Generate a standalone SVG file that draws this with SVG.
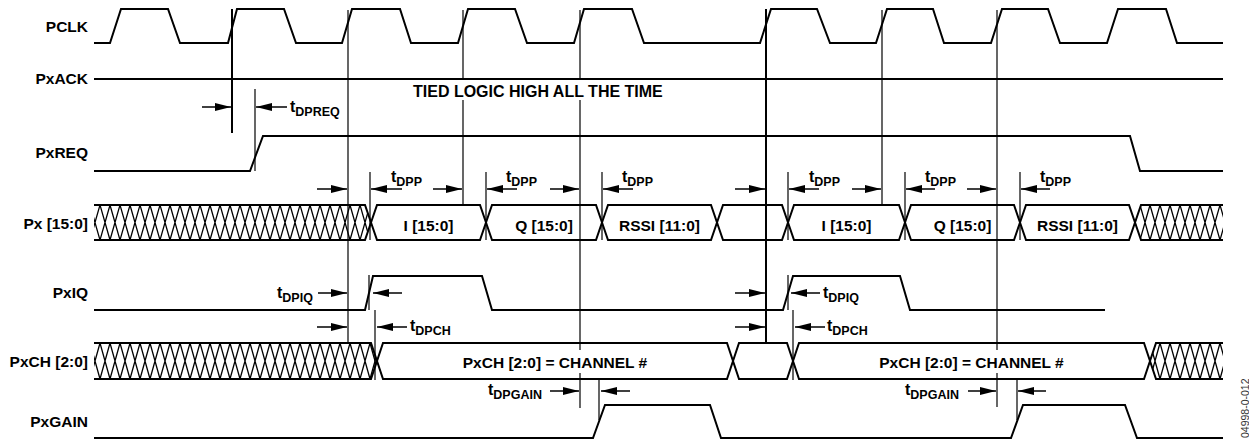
<svg xmlns="http://www.w3.org/2000/svg" width="1249" height="443" viewBox="0 0 1249 443">
<style>
.sig{fill:none;stroke:#000;stroke-width:2;stroke-linejoin:miter}
.ref{stroke:#000;stroke-width:1.2}
.refb{stroke:#000;stroke-width:2}
.tick{stroke:#000;stroke-width:1.2}
.arr{stroke:#000;stroke-width:1.5;marker-end:url(#ah)}
text{font-family:"Liberation Sans",Arial,sans-serif;font-weight:bold;fill:#000}
.lbl{font-size:15.5px;text-anchor:end}
.cell{font-size:15.5px;text-anchor:middle}
.tl{font-size:16px}
.sub{font-size:12.5px}
.id{font-weight:normal;font-size:10.5px;fill:#333}
</style>
<defs>
<marker id="ah" markerUnits="userSpaceOnUse" markerWidth="16" markerHeight="8" refX="16" refY="4" orient="auto"><path d="M0,0 L16,4 L0,8 Z" fill="#000"/></marker>
<pattern id="hPx" patternUnits="userSpaceOnUse" x="0" y="205" width="20" height="35"><path d="M0,0 L10,35 L20,0 M0,35 L10,0 L20,35" fill="none" stroke="#000" stroke-width="1.3"/></pattern>
<pattern id="hCh" patternUnits="userSpaceOnUse" x="0" y="343" width="20" height="36"><path d="M0,0 L10,36 L20,0 M0,36 L10,0 L20,36" fill="none" stroke="#000" stroke-width="1.3"/></pattern>
</defs>
<rect width="1249" height="443" fill="#fff"/>

<g id="pclk">
<text class="lbl" x="88" y="32">PCLK</text>
<path class="sig" d="M94,43 L110,43 L121,9 L168,9 L180,43 L228,43 L237,9 L284,9 L296,43 L342,43 L352,9 L400,9 L411,43 L458,43 L468,9 L515,9 L527,43 L574,43 L584,9 L632,9 L644,43 L760,43 L771,9 L817,9 L830,43 L876,43 L887,9 L933,9 L944,43 L991,43 L1002,9 L1048,9 L1060,43 L1107,43 L1118,9 L1166,9 L1177,43 L1223,43"/>
</g>

<g id="pxack">
<text class="lbl" x="88" y="84">PxACK</text>
<path class="sig" d="M94,79 L1223,79"/>
<text class="tl" x="413" y="96.5">TIED LOGIC HIGH ALL THE TIME</text>
</g>

<g id="pxreq">
<text class="lbl" x="88" y="158">PxREQ</text>
<path class="sig" d="M94,171 L250,171 L263,136 L1130,136 L1140,171 L1223,171"/>
</g>

<g id="px">
<text class="lbl" x="88" y="229">Px [15:0]</text>
<path d="M94,205 L365,205 L371,222.5 L365,240 L94,240 Z" fill="url(#hPx)"/>
<path class="sig" d="M94,205 L365,205 L371,222.5 L365,240 L94,240"/>
<path class="sig" d="M371,222.5 L377,205 L480,205 L486,222.5 L480,240 L377,240 Z"/>
<path class="sig" d="M486,222.5 L492,205 L596,205 L602,222.5 L596,240 L492,240 Z"/>
<path class="sig" d="M602,222.5 L608,205 L711,205 L717,222.5 L711,240 L608,240 Z"/>
<path class="sig" d="M717,222.5 L723,205 L782,205 L788,222.5 L782,240 L723,240 Z"/>
<path class="sig" d="M788,222.5 L794,205 L899,205 L905,222.5 L899,240 L794,240 Z"/>
<path class="sig" d="M905,222.5 L911,205 L1014,205 L1020,222.5 L1014,240 L911,240 Z"/>
<path class="sig" d="M1020,222.5 L1026,205 L1129,205 L1135,222.5 L1129,240 L1026,240 Z"/>
<path d="M1135,222.5 L1141,205 L1223,205 L1223,240 L1141,240 Z" fill="url(#hPx)"/>
<path class="sig" d="M1223,205 L1141,205 L1135,222.5 L1141,240 L1223,240"/>
<text class="cell" x="428.5" y="231">I [15:0]</text>
<text class="cell" x="544" y="231">Q [15:0]</text>
<text class="cell" x="659.5" y="231">RSSI [11:0]</text>
<text class="cell" x="846.5" y="231">I [15:0]</text>
<text class="cell" x="962.5" y="231">Q [15:0]</text>
<text class="cell" x="1077.5" y="231">RSSI [11:0]</text>
</g>

<g id="pxiq">
<text class="lbl" x="88" y="298">PxIQ</text>
<path class="sig" d="M94,310 L365,310 L373,276 L482,276 L492,310 L783,310 L793,276 L900,276 L910,310 L1105,310"/>
</g>

<g id="pxch">
<text class="lbl" x="88" y="367">PxCH [2:0]</text>
<path d="M94,343 L371,343 L377,361 L371,379 L94,379 Z" fill="url(#hCh)"/>
<path class="sig" d="M94,343 L371,343 L377,361 L371,379 L94,379"/>
<path class="sig" d="M377,361 L383,343 L727,343 L733,361 L727,379 L383,379 Z"/>
<path class="sig" d="M733,361 L739,343 L787,343 L793,361 L787,379 L739,379 Z"/>
<path class="sig" d="M793,361 L799,343 L1144,343 L1150,361 L1144,379 L799,379 Z"/>
<path d="M1150,361 L1156,343 L1223,343 L1223,379 L1156,379 Z" fill="url(#hCh)"/>
<path class="sig" d="M1223,343 L1156,343 L1150,361 L1156,379 L1223,379"/>
<text class="cell" x="555" y="368">PxCH [2:0] = CHANNEL #</text>
<text class="cell" x="971.5" y="368">PxCH [2:0] = CHANNEL #</text>
</g>

<g id="pxgain">
<text class="lbl" x="88" y="427">PxGAIN</text>
<path class="sig" d="M94,438 L593,438 L605,405 L710,405 L721,438 L1011,438 L1023,405 L1125,405 L1137,438 L1223,438"/>
</g>

<g id="connectors">
<line class="refb" x1="232" y1="9" x2="232" y2="133"/>
<line class="ref" x1="348" y1="10" x2="348" y2="343"/>
<line class="ref" x1="463" y1="10" x2="463" y2="80"/>
<line class="ref" x1="463" y1="100" x2="463" y2="205"/>
<line class="ref" x1="580" y1="10" x2="580" y2="80"/>
<line class="ref" x1="580" y1="100" x2="580" y2="350"/>
<line class="ref" x1="580" y1="373" x2="580" y2="408"/>
<line class="refb" x1="766" y1="9" x2="766" y2="342"/>
<line class="ref" x1="882" y1="10" x2="882" y2="205"/>
<line class="ref" x1="997" y1="10" x2="997" y2="350"/>
<line class="ref" x1="997" y1="373" x2="997" y2="407"/>

<line class="tick" x1="255" y1="89" x2="255" y2="171"/>
<line class="tick" x1="370" y1="172" x2="370" y2="240"/>
<line class="tick" x1="486" y1="172" x2="486" y2="240"/>
<line class="tick" x1="602" y1="172" x2="602" y2="240"/>
<line class="tick" x1="788" y1="172" x2="788" y2="240"/>
<line class="tick" x1="905" y1="172" x2="905" y2="240"/>
<line class="tick" x1="1020" y1="172" x2="1020" y2="240"/>
<line class="tick" x1="369" y1="275" x2="369" y2="310"/>
<line class="tick" x1="788" y1="275" x2="788" y2="310"/>
<line class="tick" x1="375" y1="310" x2="375" y2="380"/>
<line class="tick" x1="793" y1="310" x2="793" y2="380"/>
<line class="tick" x1="599" y1="380" x2="599" y2="420"/>
<line class="tick" x1="1017" y1="380" x2="1017" y2="420"/>

<line class="arr" x1="202" y1="107" x2="231" y2="107"/>
<line class="arr" x1="287" y1="107" x2="256" y2="107"/>

<line class="arr" x1="317" y1="189" x2="347" y2="189"/>
<line class="arr" x1="402" y1="189" x2="371" y2="189"/>
<line class="arr" x1="433" y1="189" x2="462" y2="189"/>
<line class="arr" x1="517" y1="189" x2="487" y2="189"/>
<line class="arr" x1="550" y1="189" x2="579" y2="189"/>
<line class="arr" x1="633" y1="189" x2="603" y2="189"/>
<line class="arr" x1="735" y1="189" x2="765" y2="189"/>
<line class="arr" x1="819" y1="189" x2="789" y2="189"/>
<line class="arr" x1="852" y1="189" x2="881" y2="189"/>
<line class="arr" x1="935" y1="189" x2="906" y2="189"/>
<line class="arr" x1="967" y1="189" x2="996" y2="189"/>
<line class="arr" x1="1050" y1="189" x2="1021" y2="189"/>

<line class="arr" x1="318" y1="293" x2="347" y2="293"/>
<line class="arr" x1="402" y1="293" x2="373" y2="293"/>
<line class="arr" x1="735" y1="293" x2="765" y2="293"/>
<line class="arr" x1="820" y1="293" x2="791" y2="293"/>

<line class="arr" x1="317" y1="327" x2="347" y2="327"/>
<line class="arr" x1="407" y1="327" x2="377" y2="327"/>
<line class="arr" x1="735" y1="327" x2="765" y2="327"/>
<line class="arr" x1="825" y1="327" x2="795" y2="327"/>

<line class="arr" x1="550" y1="391" x2="579" y2="391"/>
<line class="arr" x1="630" y1="391" x2="601" y2="391"/>
<line class="arr" x1="968" y1="391" x2="996" y2="391"/>
<line class="arr" x1="1046" y1="391" x2="1018" y2="391"/>

<text class="tl" x="290" y="112">t<tspan class="sub" dy="3.5">DPREQ</tspan></text>
<text class="tl" x="391" y="182">t<tspan class="sub" dy="3.5">DPP</tspan></text>
<text class="tl" x="506" y="182">t<tspan class="sub" dy="3.5">DPP</tspan></text>
<text class="tl" x="622" y="182">t<tspan class="sub" dy="3.5">DPP</tspan></text>
<text class="tl" x="809" y="182">t<tspan class="sub" dy="3.5">DPP</tspan></text>
<text class="tl" x="925" y="182">t<tspan class="sub" dy="3.5">DPP</tspan></text>
<text class="tl" x="1040" y="182">t<tspan class="sub" dy="3.5">DPP</tspan></text>
<text class="tl" x="277" y="298">t<tspan class="sub" dy="3.5">DPIQ</tspan></text>
<text class="tl" x="823" y="298">t<tspan class="sub" dy="3.5">DPIQ</tspan></text>
<text class="tl" x="410" y="331">t<tspan class="sub" dy="3.5">DPCH</tspan></text>
<text class="tl" x="827" y="331">t<tspan class="sub" dy="3.5">DPCH</tspan></text>
<text class="tl" x="488" y="395">t<tspan class="sub" dy="3.5">DPGAIN</tspan></text>
<text class="tl" x="905" y="395">t<tspan class="sub" dy="3.5">DPGAIN</tspan></text>
</g>

<text class="id" transform="translate(1248.5,438) rotate(-90)">04998-0-012</text>
</svg>
